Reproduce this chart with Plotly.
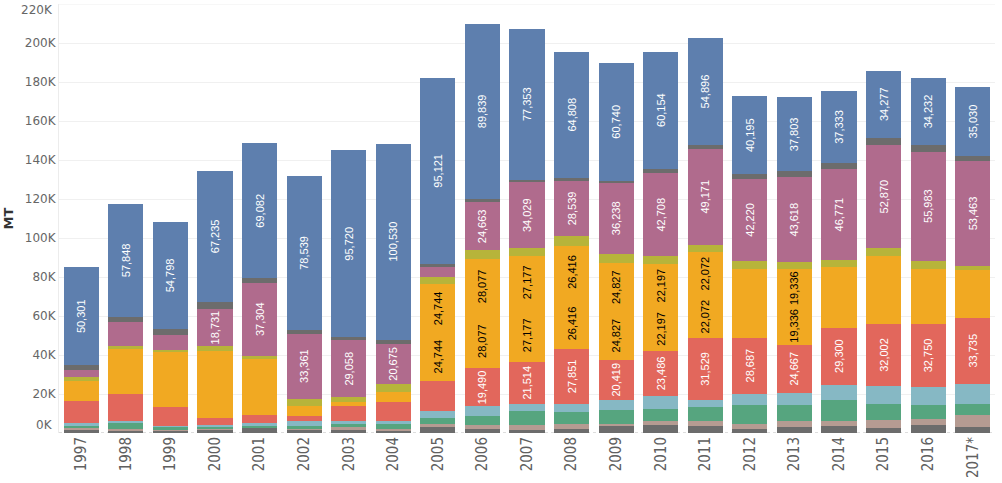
import plotly.graph_objects as go

years = ["1997", "1998", "1999", "2000", "2001", "2002", "2003", "2004", "2005", "2006",
         "2007", "2008", "2009", "2010", "2011", "2012", "2013", "2014", "2015", "2016", "2017*"]

# stacked segments, bottom to top
darkgray = [1700, 1400, 1200, 1700, 2600, 1700, 1700, 1200, 2900, 2200, 1700, 2200, 3400, 3900, 3400, 2200, 3100, 3400, 2600, 3900, 2900]
tan = [900, 900, 500, 500, 300, 500, 1400, 1000, 1700, 1700, 2600, 2600, 1400, 2100, 2600, 2600, 2900, 2600, 4300, 3400, 6500]
green = [900, 2600, 1700, 900, 900, 1200, 1500, 2400, 3100, 4600, 6800, 6000, 6800, 6500, 7200, 9400, 8600, 11100, 8200, 7200, 5600]
lightblue = [1400, 1200, 400, 1200, 1400, 2600, 1400, 1700, 3400, 5100, 3900, 4300, 5500, 6300, 3900, 6000, 6000, 7700, 8900, 8900, 10300]
red = [11300, 13700, 9400, 3400, 4100, 2900, 7700, 9400, 15700, 19490, 21514, 27851, 20419, 23486, 31529, 28687, 24667, 29300, 32002, 32750, 33735]
orange_a = [5200, 11550, 14350, 17200, 14350, 2550, 1150, 2550, 24744, 28077, 27177, 26416, 24827, 22197, 22072, 17700, 19336, 15550, 17500, 13950, 12200]
orange_b = [5200, 11550, 14350, 17200, 14350, 2550, 1150, 2550, 24744, 28077, 27177, 26416, 24827, 22197, 22072, 17700, 19336, 15550, 17500, 13950, 12200]
olive = [2100, 1700, 900, 2600, 1700, 3600, 2400, 4300, 3800, 4400, 3800, 5100, 4800, 3900, 3800, 3900, 3600, 3400, 3800, 4300, 2400]
mauve = [3600, 12300, 7700, 18731, 37304, 33361, 29058, 20675, 5100, 24663, 34029, 28539, 36238, 42708, 49171, 42220, 43618, 46771, 52870, 55983, 53463]
gray = [2400, 2700, 2900, 3800, 2400, 2100, 1700, 2100, 1700, 1700, 1200, 1400, 1000, 2200, 1900, 2200, 3100, 2900, 3800, 3400, 2900]
blue = [50301, 57848, 54798, 67235, 69082, 78539, 95720, 100530, 95121, 89839, 77353, 64808, 60740, 60154, 54896, 40195, 37803, 37333, 34277, 34232, 35030]

# which years carry a value label
blue_labeled = years
mauve_labeled = ["2000", "2001", "2002", "2003", "2004", "2006", "2007", "2008", "2009", "2010",
                 "2011", "2012", "2013", "2014", "2015", "2016", "2017*"]
orange_labeled = ["2005", "2006", "2007", "2008", "2009", "2010", "2011", "2013"]
red_labeled = ["2006", "2007", "2008", "2009", "2010", "2011", "2012", "2013", "2014", "2015", "2016", "2017*"]

y_ticks = [0, 20000, 40000, 60000, 80000, 100000, 120000, 140000, 160000, 180000, 200000, 220000]
y_labels = ["0K", "20K", "40K", "60K", "80K", "100K", "120K", "140K", "160K", "180K", "200K", "220K"]


def labels(vals, shown):
    return [f"{v:,}" if y in shown else "" for y, v in zip(years, vals)]


series = [
    ("Segment 1", darkgray, "#6c6c6c", None, None),
    ("Segment 2", tan, "#b59b92", None, None),
    ("Segment 3", green, "#56a57f", None, None),
    ("Segment 4", lightblue, "#86b8c4", None, None),
    ("Segment 5", red, "#e2675c", red_labeled, "white"),
    ("Segment 6a", orange_a, "#f1a922", orange_labeled, "black"),
    ("Segment 6b", orange_b, "#f1a922", orange_labeled, "black"),
    ("Segment 7", olive, "#b7b43a", None, None),
    ("Segment 8", mauve, "#b06b8d", mauve_labeled, "white"),
    ("Segment 9", gray, "#6c6c6c", None, None),
    ("Segment 10", blue, "#5e7fae", blue_labeled, "white"),
]

fig = go.Figure()
for name, vals, color, shown, tcolor in series:
    kw = {}
    if shown is not None:
        kw = dict(text=labels(vals, shown), textposition="inside", insidetextanchor="middle",
                  textangle=-90, textfont=dict(family="Liberation Sans, Arial, sans-serif", size=11, color=tcolor))
    fig.add_trace(go.Bar(x=years, y=vals, name=name, marker=dict(color=color, line=dict(width=0)), **kw))

fig.update_layout(
    barmode="stack",
    bargap=0.214,
    width=1002, height=483,
    margin=dict(l=59, r=7, t=4, b=50),
    paper_bgcolor="white", plot_bgcolor="white",
    showlegend=False,
    uniformtext=dict(minsize=11, mode="show"),
    font=dict(family="DejaVu Sans, sans-serif", color="#666666"),
)
fig.update_xaxes(
    type="category", tickangle=-90, showgrid=False, ticks="",
    tickfont=dict(family="Liberation Sans Narrow, DejaVu Sans Condensed, Liberation Sans, sans-serif", size=15, color="#606060"),
    showline=False,
)
fig.update_yaxes(
    range=[0, 220000], tickvals=y_ticks[1:-1], ticktext=y_labels[1:-1],
    tickfont=dict(family="DejaVu Sans, sans-serif", size=12, color="#666666"),
    showgrid=True, gridcolor="#f0f0f0", gridwidth=1, zeroline=False,
    showline=True, linecolor="#ececec", linewidth=1, ticks="",
    title=dict(text="<b>MT</b>", font=dict(family="DejaVu Sans, sans-serif", size=13, color="#333333"), standoff=8),
)
# top gridline and shifted end labels (as drawn in the reference)
fig.add_shape(type="line", xref="paper", yref="y", x0=0, x1=1, y0=y_ticks[-1], y1=y_ticks[-1],
              line=dict(color="#f0f0f0", width=1), layer="below")
fig.add_shape(type="line", xref="paper", yref="y", x0=0, x1=1, y0=y_ticks[0], y1=y_ticks[0],
              line=dict(color="#bbbbbb", width=1, dash="dot"), layer="below")
fig.add_annotation(xref="paper", yref="y", x=0, y=y_ticks[-1], text=y_labels[-1], showarrow=False,
                   xanchor="right", yanchor="middle", xshift=-4, yshift=-6,
                   font=dict(family="DejaVu Sans, sans-serif", size=12, color="#666666"))
fig.add_annotation(xref="paper", yref="y", x=0, y=y_ticks[0], text=y_labels[0], showarrow=False,
                   xanchor="right", yanchor="middle", xshift=-4, yshift=8,
                   font=dict(family="DejaVu Sans, sans-serif", size=12, color="#666666"))

fig.write_html("out.html", config={"displayModeBar": False},
               post_script="document.body.style.margin='0';document.body.style.overflow='hidden';")
